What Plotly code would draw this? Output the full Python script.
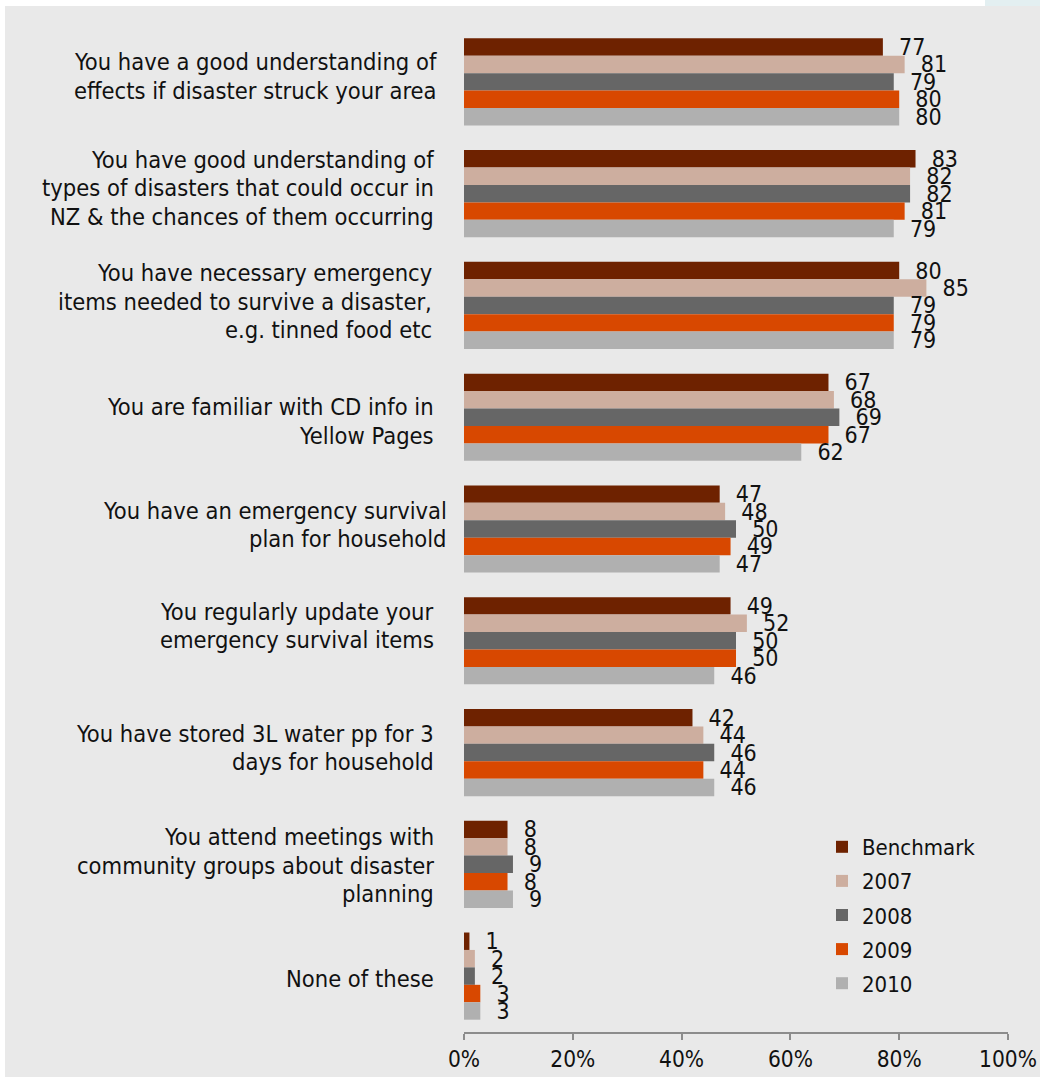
import plotly.graph_objects as go

# Survey statements (top to bottom)
categories = [
    "You have a good understanding of<br>effects if disaster struck your area",
    "You have good understanding of<br>types of disasters that could occur in<br>NZ & the chances of them occurring",
    "You have necessary emergency<br>items needed to survive a disaster,<br>e.g. tinned food etc",
    "You are familiar with CD info in<br>Yellow Pages",
    "You have an emergency survival<br>plan for household",
    "You regularly update your<br>emergency survival items",
    "You have stored 3L water pp for 3<br>days for household",
    "You attend meetings with<br>community groups about disaster<br>planning",
    "None of these",
]

series_names = ["Benchmark", "2007", "2008", "2009", "2010"]

benchmark = [77, 83, 80, 67, 47, 49, 42, 8, 1]
y2007 = [81, 82, 85, 68, 48, 52, 44, 8, 2]
y2008 = [79, 82, 79, 69, 50, 50, 46, 9, 2]
y2009 = [80, 81, 79, 67, 49, 50, 44, 8, 3]
y2010 = [80, 79, 79, 62, 47, 46, 46, 9, 3]

series_values = [benchmark, y2007, y2008, y2009, y2010]
series_colors = ["#6E2200", "#CDAE9F", "#666666", "#D84800", "#B0B0B0"]

tick_values = [0, 20, 40, 60, 80, 100]
tick_labels = [f"{v}%" for v in tick_values]

FONT = "Tahoma, 'DejaVu Sans Condensed', 'DejaVu Sans', sans-serif"
TEXT = "#111111"
BG = "#E9E9E9"

W, H = 1040, 1077
ML, MR, MT, MB = 464, 32, 26, 45
PW, PH = W - ML - MR, H - MT - MB


def px_x(x):
    return (x - ML) / PW


def px_y(y):
    return 1 + (MT - y) / PH


fig = go.Figure()

for name, vals, col in zip(series_names, series_values, series_colors):
    fig.add_trace(go.Bar(
        name=name,
        y=categories,
        x=vals,
        orientation="h",
        marker=dict(color=col, line=dict(width=0)),
        text=[str(v) for v in vals],
        texttemplate="\u00a0\u00a0%{text}",
        textposition="outside",
        textfont=dict(family=FONT, size=23, color=TEXT),
        constraintext="none",
        cliponaxis=False,
        legendgroup=name,
        hoverinfo="x+name",
    ))

# Category labels: one right-aligned text per wrapped line, tight line spacing
LINE_H = 28.5
label_dx = [-25, -28, -30, -28, -15, -28, -28, -28, -28]
label_dy = [-5.5, -5.5, -3.5, 4.5, -4, -15, -4.5, 1.5, 3]
annotations = []
for cat, dx, dy in zip(categories, label_dx, label_dy):
    lines = cat.split("<br>")
    n = len(lines)
    for k, line in enumerate(lines):
        off = dy + (k - (n - 1) / 2) * LINE_H
        annotations.append(dict(
            x=0, y=cat, xref="x", yref="y",
            text=line, showarrow=False,
            xanchor="right", yanchor="middle", align="right",
            xshift=dx, yshift=-off,
            font=dict(family=FONT, size=23.5, color=TEXT),
        ))

shapes = [
    # thin white frame strips along the top and left edge
    dict(type="rect", xref="paper", yref="paper",
         x0=px_x(0), x1=px_x(5), y0=px_y(H), y1=px_y(0),
         fillcolor="white", line=dict(width=0), layer="above"),
    dict(type="rect", xref="paper", yref="paper",
         x0=px_x(0), x1=px_x(W), y0=px_y(6), y1=px_y(0),
         fillcolor="white", line=dict(width=0), layer="above"),
    dict(type="rect", xref="paper", yref="paper",
         x0=px_x(985), x1=px_x(W), y0=px_y(6), y1=px_y(0),
         fillcolor="#E3EFF1", line=dict(width=0), layer="above"),
]

fig.update_layout(
    width=W, height=H,
    margin=dict(l=ML, r=MR, t=MT, b=MB, pad=0, autoexpand=False),
    paper_bgcolor=BG,
    plot_bgcolor=BG,
    barmode="group",
    bargap=0.22,
    bargroupgap=0,
    font=dict(family=FONT, size=22, color=TEXT),
    showlegend=True,
    legend=dict(
        x=px_x(822), y=px_y(826), xanchor="left", yanchor="top",
        bgcolor="rgba(0,0,0,0)",
        font=dict(family=FONT, size=22, color=TEXT),
        tracegroupgap=2.5,
        traceorder="grouped",
    ),
    xaxis=dict(
        range=[0, 100],
        tickvals=tick_values,
        ticktext=tick_labels,
        showgrid=False, zeroline=False,
        showline=True, linecolor="#8C8C8C", linewidth=2,
        ticks="outside", ticklen=6, tickwidth=2, tickcolor="#8C8C8C",
        tickfont=dict(family=FONT, size=22.5, color=TEXT),
        automargin=False,
        fixedrange=True,
    ),
    yaxis=dict(
        autorange="reversed",
        showticklabels=False,
        showgrid=False, zeroline=False, showline=False,
        ticks="",
        automargin=False,
        fixedrange=True,
    ),
    annotations=annotations,
    shapes=shapes,
)

fig.write_html("out.html")
